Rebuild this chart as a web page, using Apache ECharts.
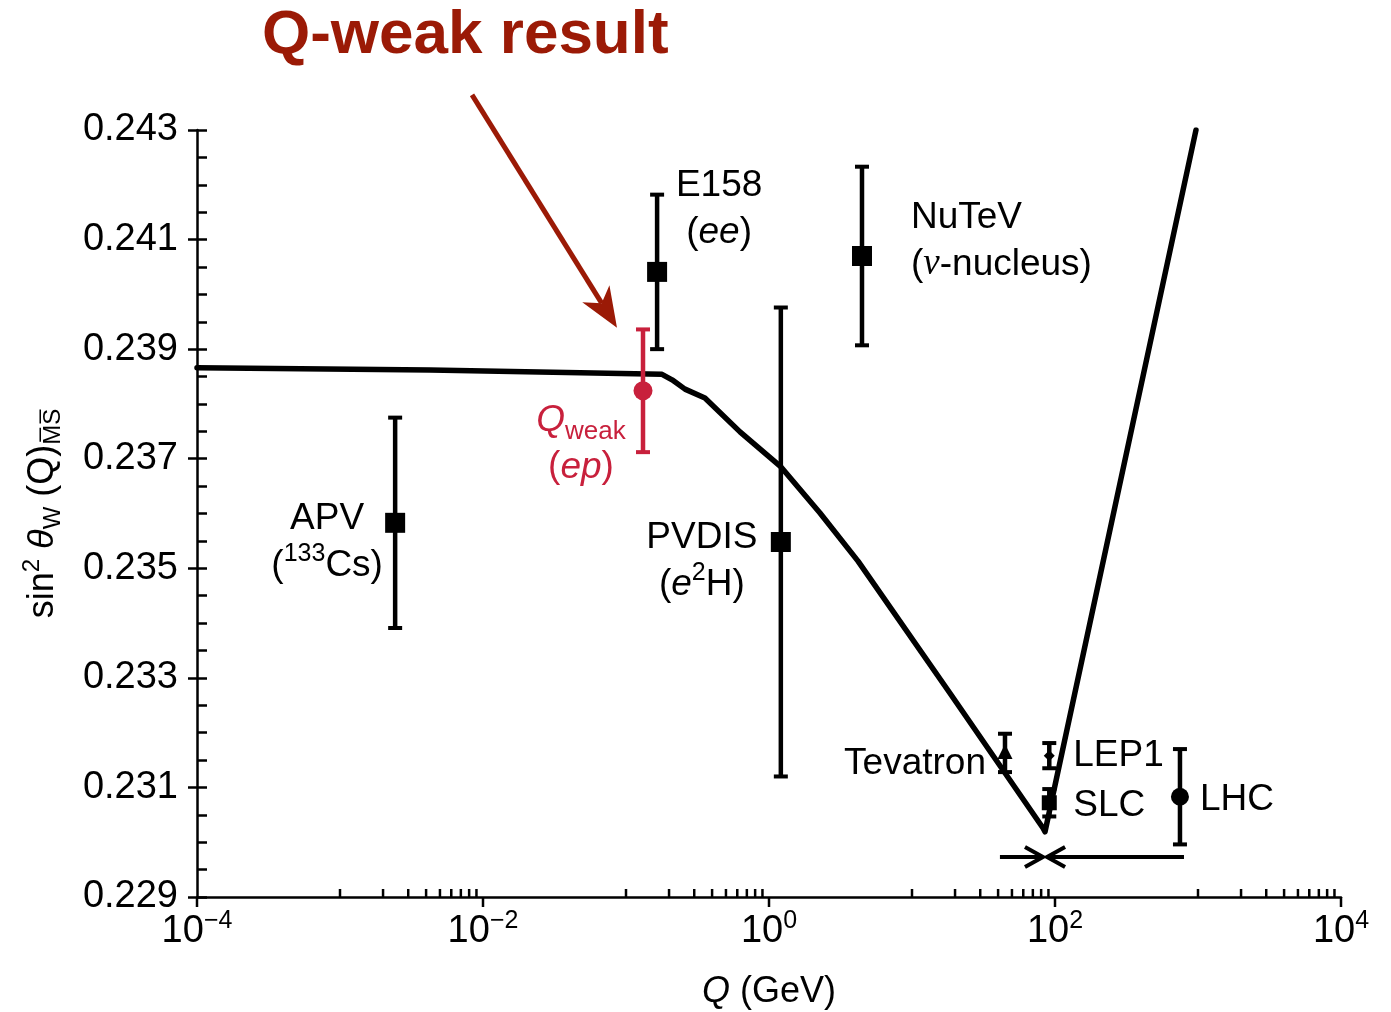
<!DOCTYPE html>
<html><head><meta charset="utf-8">
<script src="https://cdn.jsdelivr.net/npm/echarts@6/dist/echarts.min.js"></script>
<style>html,body{margin:0;padding:0;background:#fff}#chart{width:1391px;height:1012px}</style>
</head><body><div id="chart"></div>
<script>
// ---------------- data ----------------
const experiments = ['APV', 'Qweak', 'E158', 'PVDIS', 'NuTeV', 'Tevatron', 'LEP1', 'SLC', 'LHC'];
const expQ     = [0.00243, 0.1315, 0.165, 1.21, 4.47, 44.7, 91.2, 91.2, 748];
const expSin2  = [0.23583, 0.23824, 0.24041, 0.23548, 0.24070, 0.23163, 0.23158, 0.23072, 0.23083];
const expErr   = [0.00192, 0.00112, 0.00141, 0.00428, 0.00163, 0.00035, 0.00023, 0.00025, 0.00087];

const runningQ    = [1e-4, 0.00426, 0.1786, 0.210, 0.2586, 0.3564, 0.627, 1.213, 2.273, 4.193, 18.44, 82.4, 85.1, 968];
const runningSin2 = [0.23866, 0.23862, 0.23854, 0.23844, 0.23827, 0.23811, 0.23749, 0.23685, 0.23601, 0.23513, 0.23272, 0.23026, 0.23019, 0.2430];

// scale arrows at the bottom (from Q, to Q, level)
const scaleArrowFrom = [41.2, 798];
const scaleArrowTo   = [82.4, 88.0];
const scaleArrowLevel = 0.22973;
// "Q-weak result" pointer (start Q, start value, end Q, end value)
const pointerArrow = [0.00838, 0.24364, 0.0865, 0.23939];

const xMajorExponents = [-4, -2, 0, 2, 4];
const xMinorDecades   = [-3, -1, 1, 3];
const yMin = 0.229, yMax = 0.243, yStep = 0.002;

// ---------------- styles ----------------
const FONT = "'Liberation Sans', Arial, Helvetica, sans-serif";
const SERIF = "'Liberation Serif', 'DejaVu Serif', serif";
const BLACK = '#000000';
const RED = '#c8203c';
const DARKRED = '#9b1a06';

const LF = 37, LH = 47;
const richZ = {
  r:   {fontSize: LF, fontFamily: FONT, lineHeight: LH},
  it:  {fontSize: LF, fontFamily: FONT, fontStyle: 'italic', lineHeight: LH},
  sup: {fontSize: 25, fontFamily: FONT, lineHeight: LH, padding: [0, 0, 22, 0]},
  sub: {fontSize: 26, fontFamily: FONT, lineHeight: LH, padding: [24, 0, 0, 0]},
  nu:  {fontSize: LF, fontFamily: SERIF, fontStyle: 'italic', lineHeight: LH}
};

const expStyle = {
  APV:      {color: BLACK, marker: 'rect', size: 20, text: '{r|APV}\n{r|(}{sup|133}{r|Cs)}', align: 'center', dx: -68, dy: 19},
  Qweak:    {color: RED, marker: 'circle', size: 19, text: '{it|Q}{sub|weak}\n{r|(}{it|ep}{r|)}', align: 'center', dx: -62, dy: 53},
  E158:     {color: BLACK, marker: 'rect', size: 20, text: '{r|E158}\n{r|(}{it|ee}{r|)}', align: 'center', dx: 62, dy: -63},
  PVDIS:    {color: BLACK, marker: 'rect', size: 20, text: '{r|PVDIS}\n{r|(}{it|e}{sup|2}{r|H)}', align: 'center', dx: -79, dy: 19},
  NuTeV:    {color: BLACK, marker: 'rect', size: 20, text: '{r|NuTeV}\n{r|(}{nu|ν}{r|-nucleus)}', align: 'left', dx: 49, dy: -15},
  Tevatron: {color: BLACK, marker: 'triangle', size: 15, text: '{r|Tevatron}', align: 'right', dx: -19, dy: 11},
  LEP1:     {color: BLACK, marker: 'diamond', size: 11, text: '{r|LEP1}', align: 'left', dx: 24, dy: 0},
  SLC:      {color: BLACK, marker: 'rect', size: 15, text: '{r|SLC}', align: 'left', dx: 24, dy: 3},
  LHC:      {color: BLACK, marker: 'circle', size: 18, text: '{r|LHC}', align: 'left', dx: 20, dy: 3}
};

// ---------------- render helpers ----------------
function renderExperiment(params, api) {
  const name = experiments[params.dataIndex];
  const st = expStyle[name];
  const q = api.value(0), v = api.value(1), e = api.value(2);
  const c = api.coord([q, v]);
  const t = api.coord([q, v + e]);
  const b = api.coord([q, v - e]);
  const cw = 7;
  const children = [
    {type: 'line', shape: {x1: c[0], y1: t[1], x2: c[0], y2: b[1]}, style: {stroke: st.color, lineWidth: 4.5}},
    {type: 'line', shape: {x1: c[0] - cw, y1: t[1], x2: c[0] + cw, y2: t[1]}, style: {stroke: st.color, lineWidth: 4}},
    {type: 'line', shape: {x1: c[0] - cw, y1: b[1], x2: c[0] + cw, y2: b[1]}, style: {stroke: st.color, lineWidth: 4}}
  ];
  const s = st.size;
  if (st.marker === 'rect') {
    children.push({type: 'rect', shape: {x: c[0] - s / 2, y: c[1] - s / 2, width: s, height: s}, style: {fill: st.color}});
  } else if (st.marker === 'circle') {
    children.push({type: 'circle', shape: {cx: c[0], cy: c[1], r: s / 2}, style: {fill: st.color}});
  } else if (st.marker === 'triangle') {
    children.push({type: 'polygon', shape: {points: [[c[0], c[1] - s * 0.6], [c[0] + s / 2, c[1] + s * 0.4], [c[0] - s / 2, c[1] + s * 0.4]]}, style: {fill: st.color}});
  } else if (st.marker === 'diamond') {
    children.push({type: 'polygon', shape: {points: [[c[0], c[1] - s / 2], [c[0] + s / 2, c[1]], [c[0], c[1] + s / 2], [c[0] - s / 2, c[1]]]}, style: {fill: st.color}});
  }
  children.push({
    type: 'text', x: c[0] + st.dx, y: c[1] + st.dy,
    style: {text: st.text, rich: richZ, fill: st.color, fontSize: LF, fontFamily: FONT, lineHeight: LH,
            align: st.align, verticalAlign: 'middle'}
  });
  return {type: 'group', children: children};
}

function renderScaleArrow(params, api) {
  const p1 = api.coord([api.value(0), api.value(2)]);
  const p2 = api.coord([api.value(1), api.value(2)]);
  const dir = p2[0] > p1[0] ? 1 : -1;
  const back = 18, half = 10;
  return {type: 'group', children: [
    {type: 'line', shape: {x1: p1[0], y1: p1[1], x2: p2[0], y2: p2[1]}, style: {stroke: BLACK, lineWidth: 4}},
    {type: 'polyline', shape: {points: [[p2[0] - dir * back, p2[1] - half], [p2[0], p2[1]], [p2[0] - dir * back, p2[1] + half]]},
     style: {stroke: BLACK, lineWidth: 4, fill: null}}
  ]};
}

function renderPointer(params, api) {
  const p1 = api.coord([api.value(0), api.value(1)]);
  const p2 = api.coord([api.value(2), api.value(3)]);
  const dx = p2[0] - p1[0], dy = p2[1] - p1[1];
  const L = Math.hypot(dx, dy), ux = dx / L, uy = dy / L, nx = -uy, ny = ux;
  const len = 40, half = 16, notch = 29;
  const base = [p2[0] - ux * len, p2[1] - uy * len];
  const nb = [p2[0] - ux * notch, p2[1] - uy * notch];
  return {type: 'group', children: [
    {type: 'line', shape: {x1: p1[0], y1: p1[1], x2: nb[0], y2: nb[1]}, style: {stroke: DARKRED, lineWidth: 5}},
    {type: 'polygon', shape: {points: [[p2[0], p2[1]], [base[0] + nx * half, base[1] + ny * half], nb, [base[0] - nx * half, base[1] - ny * half]]},
     style: {fill: DARKRED}}
  ]};
}

function renderXTick(params, api) {
  const p = api.coord([api.value(0), yMin]);
  const major = api.value(1) === 1;
  return {type: 'line', shape: {x1: p[0], y1: p[1], x2: p[0], y2: major ? p[1] + 10 : p[1] - 8},
          style: {stroke: BLACK, lineWidth: 2.5}};
}

// tick data derived from axis decades
const xTickData = [];
xMajorExponents.forEach(function (e) { xTickData.push([Math.pow(10, e), 1]); });
xMinorDecades.forEach(function (e) {
  for (let m = 1; m <= 9; m++) xTickData.push([m * Math.pow(10, e), 0]);
});

const supMinus = function (n) { return (n < 0 ? '\u2212' : '') + Math.abs(n); };

const option = {
  animation: false,
  backgroundColor: '#ffffff',
  title: {
    text: 'Q-weak result', left: 262, top: 5, padding: 0,
    textStyle: {fontSize: 62, fontWeight: 'bold', color: DARKRED, fontFamily: FONT}
  },
  grid: {left: 197, right: 50, top: 130, bottom: 115, containLabel: false, outerBoundsMode: 'none'},
  xAxis: {
    type: 'log', logBase: 10, min: 1e-4, max: 1e4,
    axisLine: {show: true, lineStyle: {color: BLACK, width: 2.5}},
    axisTick: {show: false},
    splitLine: {show: false},
    minorTick: {show: false},
    axisLabel: {
      margin: 13, color: BLACK, fontFamily: FONT, fontSize: 38,
      formatter: function (v) {
        const n = Math.round(Math.log10(v));
        if (xMajorExponents.indexOf(n) < 0) return '';
        return '{b|10}{e|' + supMinus(n) + '}';
      },
      rich: {
        b: {fontSize: 38, fontFamily: FONT, color: BLACK, lineHeight: 44},
        e: {fontSize: 25, fontFamily: FONT, color: BLACK, lineHeight: 44, padding: [0, 0, 22, 0]}
      }
    },
    name: '{it|Q} (GeV)', nameLocation: 'middle', nameGap: 77,
    nameTextStyle: {fontSize: 36, fontFamily: FONT, color: BLACK,
      rich: {it: {fontSize: 36, fontFamily: FONT, fontStyle: 'italic', color: BLACK}}}
  },
  yAxis: [{
    type: 'value', min: yMin, max: yMax, interval: yStep, position: 'left',
    axisLine: {show: true, lineStyle: {color: BLACK, width: 2.5}},
    axisTick: {show: true, inside: false, length: 9, lineStyle: {color: BLACK, width: 2.5}},
    splitLine: {show: false},
    axisLabel: {margin: 19, color: BLACK, fontFamily: FONT, fontSize: 38,
      formatter: function (v) { return v.toFixed(3); }},
    name: '{r|sin}{sup|2} {th|θ}{sub|W} {r|(Q)}{sub|M\u0305S\u0305}',
    nameLocation: 'middle', nameRotate: 90, nameGap: 131,
    nameTextStyle: {fontSize: 36, fontFamily: FONT, color: BLACK,
      rich: {
        r: {fontSize: 36, fontFamily: FONT, color: BLACK, lineHeight: 46},
        th: {fontSize: 36, fontFamily: FONT, fontStyle: 'italic', color: BLACK, lineHeight: 46},
        sup: {fontSize: 24, fontFamily: FONT, color: BLACK, lineHeight: 46, padding: [0, 0, 22, 0]},
        sub: {fontSize: 24, fontFamily: FONT, color: BLACK, lineHeight: 46, padding: [20, 0, 0, 0]}
      }}
  }, {
    type: 'value', min: yMin, max: yMax, interval: yStep, position: 'left', offset: 0,
    axisLine: {show: false},
    axisTick: {show: true, inside: true, length: 10, lineStyle: {color: BLACK, width: 2.5}},
    minorTick: {show: true, splitNumber: 4, length: 10, lineStyle: {color: BLACK, width: 2.5}},
    splitLine: {show: false},
    axisLabel: {show: false}
  }],
  series: [
    {
      name: 'ticks', type: 'custom', clip: false, silent: true, z: 1,
      renderItem: renderXTick, data: xTickData, encode: {x: 0}
    },
    {
      name: 'running', type: 'line', showSymbol: false, symbol: 'none', z: 2,
      lineStyle: {color: BLACK, width: 5.5, join: 'round', cap: 'round'},
      data: runningQ.map(function (q, i) { return [q, runningSin2[i]]; })
    },
    {
      name: 'experiments', type: 'custom', clip: false, z: 3,
      renderItem: renderExperiment,
      data: expQ.map(function (q, i) { return [q, expSin2[i], expErr[i]]; }),
      encode: {x: 0, y: 1}
    },
    {
      name: 'scaleArrows', type: 'custom', clip: false, z: 3,
      renderItem: renderScaleArrow,
      data: scaleArrowFrom.map(function (q, i) { return [q, scaleArrowTo[i], scaleArrowLevel]; }),
      encode: {x: 0, y: 2}
    },
    {
      name: 'pointer', type: 'custom', clip: false, z: 4,
      renderItem: renderPointer,
      data: [pointerArrow],
      encode: {x: 0, y: 1}
    }
  ]
};

const chart = echarts.init(document.getElementById('chart'), null, {renderer: 'canvas'});
chart.setOption(option);
</script>
</body></html>
